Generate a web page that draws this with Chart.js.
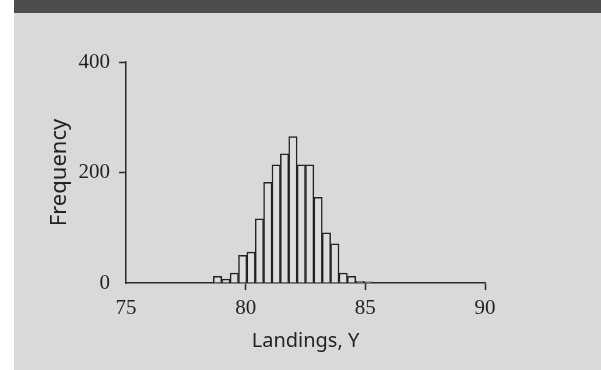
<!DOCTYPE html>
<html>
<head>
<meta charset="utf-8">
<script src="https://cdn.jsdelivr.net/npm/chart.js@4"></script>
<style>
  body { margin: 0; background: #ffffff; }
  #panel { position: absolute; left: 14px; top: 0; width: 587px; height: 370px; background: #d9d9d9; }
  #band { height: 13px; background: #4d4d4d; }
  #wrap { width: 587px; height: 357px; }
</style>
</head>
<body>
<div id="panel">
  <div id="band"></div>
  <div id="wrap"><canvas id="hist" width="587" height="357"></canvas></div>
</div>
<script>
// histogram bins (centres of 0.35 wide bins) and counts
const binCentres = [78.825, 79.175, 79.525, 79.875, 80.225, 80.575, 80.925, 81.275, 81.625, 81.975,
                    82.325, 82.675, 83.025, 83.375, 83.725, 84.075, 84.425, 84.775, 85.125];
const counts = [12, 7, 18, 50, 56, 116, 182, 214, 234, 265,
                214, 214, 155, 91, 71, 18, 12, 3, 2];
const xTicks = [75, 80, 85, 90];
const yTicks = [0, 200, 400];

const axisColour = '#2b2b2b';
const tickFont = { family: '"Liberation Serif", serif', size: 21 };
const xTitleFont = { family: '"Noto Sans", sans-serif', size: 20 };
const yTitleFont = { family: '"Noto Sans", sans-serif', size: 22 };

function hideFirst(ctx) {
    // no tick mark where the two axes meet
    return ctx.index === 0 ? 'rgba(0,0,0,0)' : axisColour;
}

const ctx = document.getElementById('hist').getContext('2d');
new Chart(ctx, {
    type: 'bar',
    data: {
        datasets: [{
            data: binCentres.map((c, i) => ({ x: c, y: counts[i] })),
            backgroundColor: '#dcdddf',
            borderColor: '#222222',
            borderWidth: 1.5,
            barPercentage: 1,
            categoryPercentage: 1
        }]
    },
    options: {
        responsive: false,
        animation: false,
        layout: { padding: { left: 33, right: 116, top: 49, bottom: 17 } },
        plugins: { legend: { display: false }, tooltip: { enabled: false } },
        scales: {
            x: {
                type: 'linear',
                offset: false,
                min: 75,
                max: 90,
                afterBuildTicks: s => { s.ticks = xTicks.map(v => ({ value: v })); },
                afterFit: s => { s.height = 70; },
                ticks: { color: '#222', font: tickFont, padding: 6, maxRotation: 0 },
                grid: { offset: false, drawOnChartArea: false, drawTicks: true, tickLength: 7, tickColor: hideFirst, tickWidth: 1.5 },
                border: { color: axisColour, width: 1.5 },
                title: { display: true, text: 'Landings, Y', color: '#222', font: xTitleFont, padding: 0 }
            },
            y: {
                min: 0,
                max: 400,
                afterBuildTicks: s => { s.ticks = yTicks.map(v => ({ value: v })); },
                afterFit: s => { s.width = 79; },
                ticks: { color: '#222', font: tickFont, padding: 9 },
                grid: { drawOnChartArea: false, drawTicks: true, tickLength: 7, tickColor: hideFirst, tickWidth: 1.5 },
                border: { color: axisColour, width: 1.5 },
                title: { display: true, text: 'Frequency', color: '#222', font: yTitleFont, padding: 0 }
            }
        }
    }
});
</script>
</body>
</html>
